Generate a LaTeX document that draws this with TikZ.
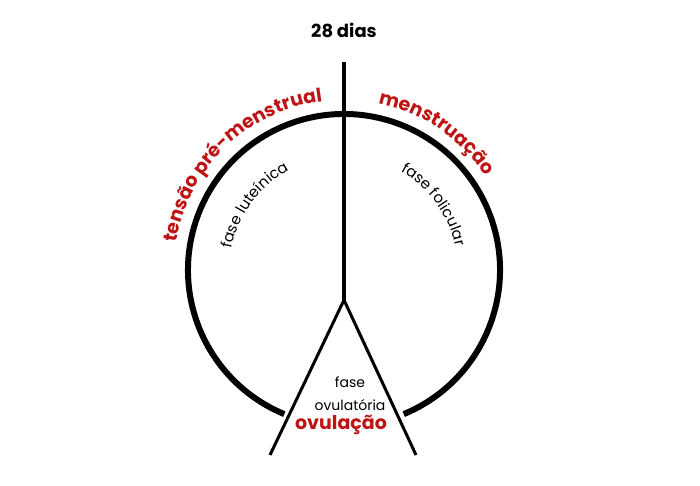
\documentclass[tikz,border=0pt]{standalone}
\usepackage{fontspec}
\setmainfont{Poppins}
\usetikzlibrary{decorations.text}
\definecolor{rd}{RGB}{190,20,20}
\begin{document}
\begin{tikzpicture}[x=1pt,y=1pt,
  redlbl/.style={decorate,decoration={text along path,text align=center,
     text={|\fontsize{19}{19}\bfseries\color{rd}|#1}}},
  innerlbl/.style={decorate,decoration={text along path,text align=center,
     text={|\fontsize{15}{15}\selectfont|#1}}}]
\useasboundingbox (0,0) rectangle (700,-486);
\coordinate (c) at (344,-270);
\coordinate (top) at (344,-62);
\coordinate (apex) at (344,-300);
\coordinate (bl) at (270,-455);
\coordinate (br) at (416,-455);
\draw[line width=6pt] (c) ++(-67.5:156) arc[start angle=-67.5,end angle=247.5,radius=156];
\draw[line width=4pt] (top) -- (apex);
\draw[line width=3pt] (bl) -- (apex) -- (br);
\node[font=\fontsize{18}{18}\bfseries] (t) at (344,-30) {28 dias};
\path[redlbl={tensão pré-menstrual}] (c) ++(172:170) arc[start angle=172,end angle=96,radius=170];
\path[redlbl={menstruação}] (c) ++(80:170) arc[start angle=80,end angle=32,radius=170];
\path[innerlbl={fase luteínica}] (c) ++(178:114) arc[start angle=178,end angle=110,radius=114];
\path[innerlbl={fase folicular}] (c) ++(70:114) arc[start angle=70,end angle=2,radius=114];
\node[font=\fontsize{14}{14}\selectfont] (f) at (350,-382) {fase};
\node[font=\fontsize{14}{14}\selectfont] (o) at (350,-405) {ovulatória};
\node[font=\fontsize{19}{19}\bfseries,text=rd] (ov) at (341,-425) {ovulação};
\end{tikzpicture}
\end{document}
